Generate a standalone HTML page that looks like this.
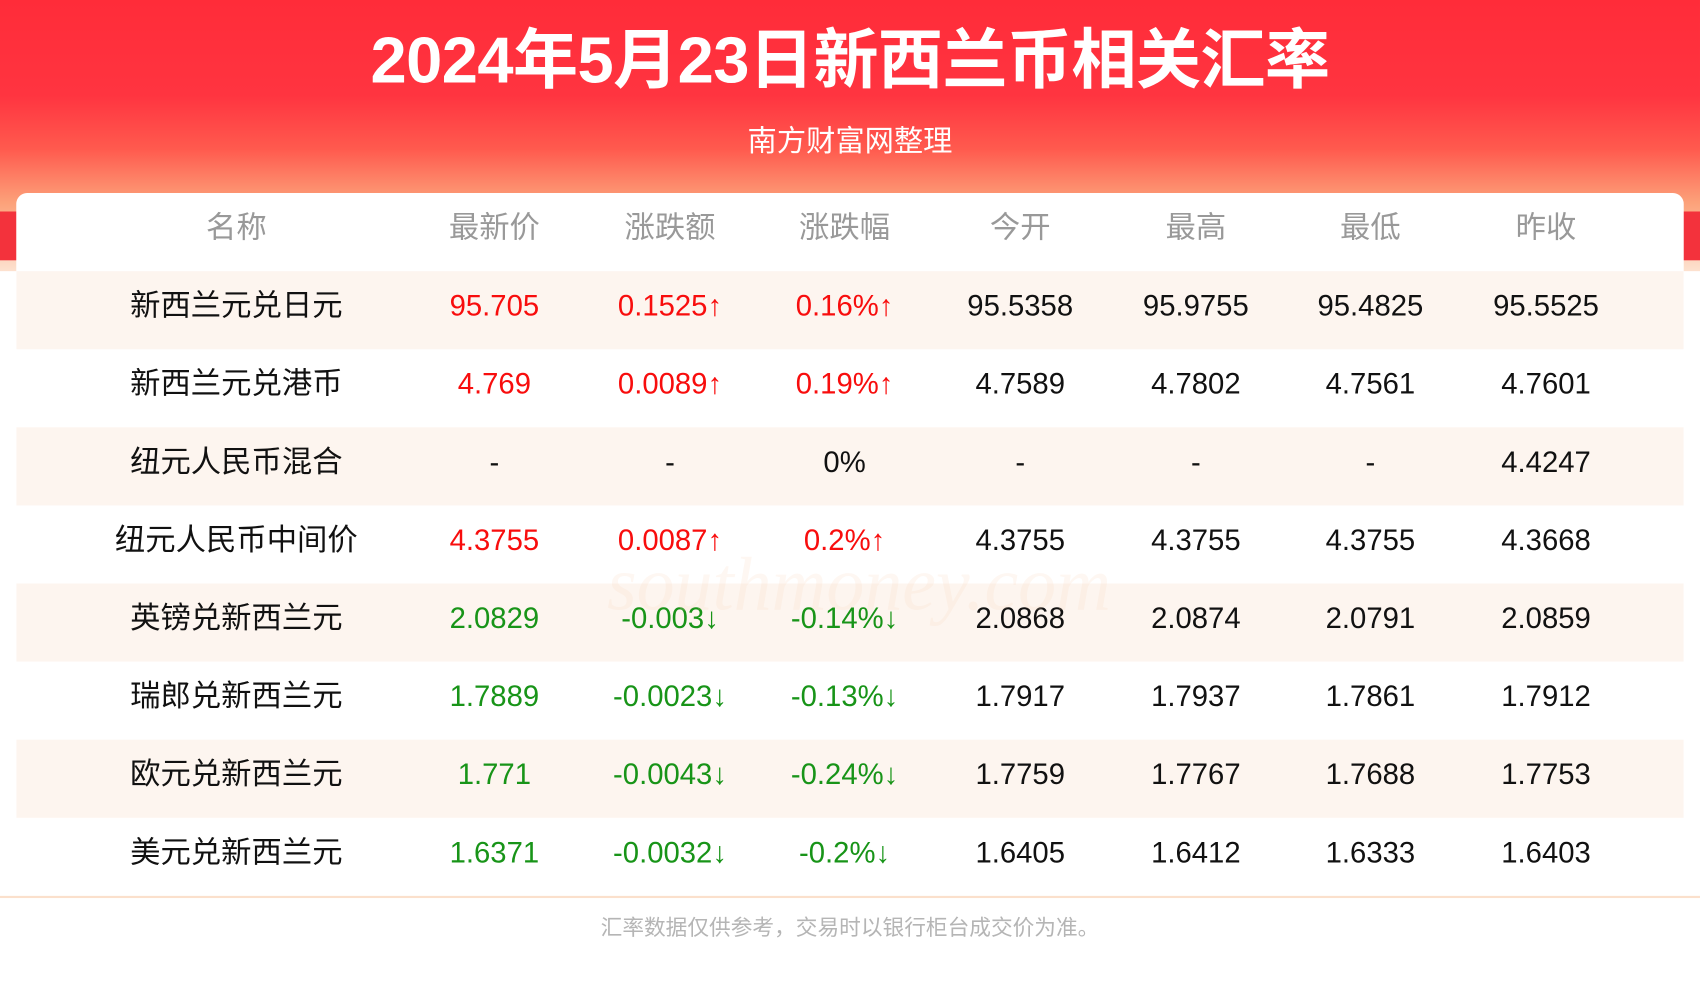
<!DOCTYPE html>
<html><head><meta charset="utf-8"><style>
html,body{margin:0;padding:0;width:1700px;height:1000px;overflow:hidden;background:#fff}
#w{position:absolute;left:0;top:0;width:1568px;height:922px;transform:scale(1.08418,1.08460);transform-origin:0 0;font-family:"Liberation Sans","Noto Sans CJK SC",sans-serif}
#bg{position:absolute;left:0;top:0;width:1568px;height:250px;background:linear-gradient(180deg,#ff2c39 0%,#ff3440 35%,#ff5a4e 55%,#fca27a 75%,#fde1cf 100%)}
.side{position:absolute;top:195px;width:16px;height:45px;background:#f3323c}
h1{position:absolute;left:0;width:1568px;top:20px;margin:0;text-align:center;color:#fff;font-size:60px;font-weight:bold;line-height:72px;letter-spacing:-0.5px}
.sub{position:absolute;left:0;width:1568px;top:112px;text-align:center;color:#fff;font-size:27px;line-height:36px}
#card{position:absolute;left:15px;top:178px;width:1538px;height:648px;background:#fff;border-radius:10px 10px 0 0;overflow:hidden}
.row{position:absolute;left:0;width:1538px;height:72px;line-height:64px;font-size:27px;color:#111}
.row.a{background:#fdf5ef}
.row span{position:absolute;top:0;width:240px;margin-left:-120px;text-align:center;white-space:nowrap}
.nm{font-size:28px}
.hd{color:#999;font-size:28px}
.r{color:#f80d0d}.g{color:#189418}
#line{position:absolute;left:0;top:826px;width:1568px;height:2px;background:#fbe0cc}
#ft{position:absolute;left:0;width:1568px;top:842px;text-align:center;color:#b5b5b5;font-size:20px;line-height:28px}
#wm{position:absolute;left:560px;top:500px;font-family:"Liberation Serif",serif;font-style:italic;font-size:70px;color:rgba(250,215,190,.2)}
</style></head><body><div id="w">
<div id="bg"></div>
<div class="side" style="left:0"></div><div class="side" style="right:0"></div>
<h1>2024年5月23日新西兰币相关汇率</h1>
<div class="sub">南方财富网整理</div>
<div id="card">
<div class="row hd" style="top:0"><span style="left:203px">名称</span><span style="left:441px">最新价</span><span style="left:603px">涨跌额</span><span style="left:764px">涨跌幅</span><span style="left:926px">今开</span><span style="left:1088px">最高</span><span style="left:1249px">最低</span><span style="left:1411px">昨收</span></div>
<div class="row a" style="top:72px"><span class="nm" style="left:203px">新西兰元兑日元</span><span class="r" style="left:441px">95.705</span><span class="r" style="left:603px">0.1525↑</span><span class="r" style="left:764px">0.16%↑</span><span style="left:926px">95.5358</span><span style="left:1088px">95.9755</span><span style="left:1249px">95.4825</span><span style="left:1411px">95.5525</span></div>
<div class="row" style="top:144px"><span class="nm" style="left:203px">新西兰元兑港币</span><span class="r" style="left:441px">4.769</span><span class="r" style="left:603px">0.0089↑</span><span class="r" style="left:764px">0.19%↑</span><span style="left:926px">4.7589</span><span style="left:1088px">4.7802</span><span style="left:1249px">4.7561</span><span style="left:1411px">4.7601</span></div>
<div class="row a" style="top:216px"><span class="nm" style="left:203px">纽元人民币混合</span><span style="left:441px">-</span><span style="left:603px">-</span><span style="left:764px">0%</span><span style="left:926px">-</span><span style="left:1088px">-</span><span style="left:1249px">-</span><span style="left:1411px">4.4247</span></div>
<div class="row" style="top:288px"><span class="nm" style="left:203px">纽元人民币中间价</span><span class="r" style="left:441px">4.3755</span><span class="r" style="left:603px">0.0087↑</span><span class="r" style="left:764px">0.2%↑</span><span style="left:926px">4.3755</span><span style="left:1088px">4.3755</span><span style="left:1249px">4.3755</span><span style="left:1411px">4.3668</span></div>
<div class="row a" style="top:360px"><span class="nm" style="left:203px">英镑兑新西兰元</span><span class="g" style="left:441px">2.0829</span><span class="g" style="left:603px">-0.003↓</span><span class="g" style="left:764px">-0.14%↓</span><span style="left:926px">2.0868</span><span style="left:1088px">2.0874</span><span style="left:1249px">2.0791</span><span style="left:1411px">2.0859</span></div>
<div class="row" style="top:432px"><span class="nm" style="left:203px">瑞郎兑新西兰元</span><span class="g" style="left:441px">1.7889</span><span class="g" style="left:603px">-0.0023↓</span><span class="g" style="left:764px">-0.13%↓</span><span style="left:926px">1.7917</span><span style="left:1088px">1.7937</span><span style="left:1249px">1.7861</span><span style="left:1411px">1.7912</span></div>
<div class="row a" style="top:504px"><span class="nm" style="left:203px">欧元兑新西兰元</span><span class="g" style="left:441px">1.771</span><span class="g" style="left:603px">-0.0043↓</span><span class="g" style="left:764px">-0.24%↓</span><span style="left:926px">1.7759</span><span style="left:1088px">1.7767</span><span style="left:1249px">1.7688</span><span style="left:1411px">1.7753</span></div>
<div class="row" style="top:576px"><span class="nm" style="left:203px">美元兑新西兰元</span><span class="g" style="left:441px">1.6371</span><span class="g" style="left:603px">-0.0032↓</span><span class="g" style="left:764px">-0.2%↓</span><span style="left:926px">1.6405</span><span style="left:1088px">1.6412</span><span style="left:1249px">1.6333</span><span style="left:1411px">1.6403</span></div>
</div>
<div id="wm">southmoney.com</div>
<div id="line"></div>
<div id="ft">汇率数据仅供参考，交易时以银行柜台成交价为准。</div>
</div></body></html>
